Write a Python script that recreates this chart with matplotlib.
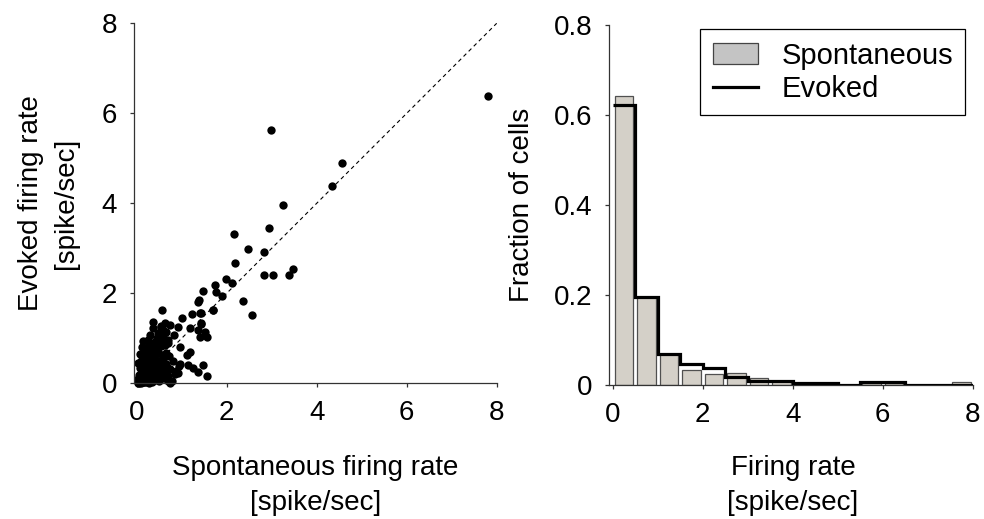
import matplotlib
matplotlib.use("Agg")
import matplotlib.pyplot as plt
from matplotlib.patches import Patch
from matplotlib.lines import Line2D
import numpy as np

plt.rcParams['font.family'] = ['Liberation Sans', 'DejaVu Sans']
plt.rcParams['font.size'] = 20

# Spontaneous vs evoked firing rate per cell [spike/sec]
spont_rate = [
    # sparse, higher-rate cells
    7.80, 2.99, 4.57, 4.33, 3.26, 2.93, 2.16, 2.48, 2.84, 2.18, 1.98, 2.12,
    2.84, 3.02, 3.38, 3.47, 1.73, 1.47, 1.76, 1.89, 1.38, 2.37, 1.70, 1.44,
    2.57, 1.43, 1.37, 1.69, 1.00, 1.22, 1.41, 1.44, 1.37, 1.56, 1.52, 1.18,
    1.11, 0.96, 1.15, 1.26, 1.37, 1.48, 1.56, 0.92, 0.96, 1.41, 1.18, 0.92,
    0.74, 0.78, 0.56, 0.36, 0.74, 0.59, 0.84, 0.55, 0.70,
    # dense low-rate cluster
    0.05, 0.10, 0.15, 0.20, 0.25, 0.30, 0.35, 0.40, 0.50, 0.60, 0.70,
    0.05, 0.12, 0.18, 0.25, 0.32, 0.40, 0.48, 0.55, 0.62, 0.70, 0.85,
    0.08, 0.15, 0.22, 0.30, 0.38, 0.45, 0.52, 0.60, 0.68, 0.75, 0.95,
    0.10, 0.18, 0.26, 0.34, 0.42, 0.50, 0.58, 0.80,
    0.07, 0.15, 0.22, 0.30, 0.40, 0.48, 0.56, 0.64, 0.72,
    0.12, 0.20, 0.36, 0.46, 0.55, 0.62,
    0.14, 0.25, 0.32, 0.42, 0.50, 0.60, 0.70,
    0.30, 0.47, 0.58, 0.66,
    0.36, 0.55, 0.63,
    0.04, 0.08, 0.12, 0.03, 0.18, 0.22, 0.28, 0.45, 0.65, 0.33, 0.88,
    0.02, 0.06, 0.10, 0.14, 0.02, 0.06, 0.10, 0.16, 0.24, 0.28,
]
evoked_rate = [
    6.39, 5.64, 4.90, 4.38, 3.96, 3.46, 3.31, 2.98, 2.92, 2.68, 2.32, 2.24,
    2.41, 2.41, 2.41, 2.54, 2.18, 2.06, 2.03, 1.94, 1.85, 1.82, 1.64, 1.56,
    1.52, 1.32, 1.81, 1.63, 1.46, 1.54, 1.57, 1.33, 1.18, 1.02, 1.15, 0.70,
    0.63, 0.81, 0.41, 0.33, 0.26, 0.41, 0.16, 1.26, 0.44, 1.04, 1.22, 0.22,
    0.00, 0.06, 1.64, 1.37, 1.30, 1.19, 1.07, 1.26, 0.90,
    0.05, 0.03, 0.08, 0.02, 0.06, 0.10, 0.04, 0.08, 0.05, 0.12, 0.06,
    0.18, 0.22, 0.15, 0.20, 0.25, 0.17, 0.23, 0.19, 0.24, 0.16, 0.21,
    0.35, 0.30, 0.38, 0.33, 0.36, 0.31, 0.39, 0.34, 0.37, 0.32, 0.38,
    0.50, 0.46, 0.54, 0.48, 0.52, 0.47, 0.55, 0.49,
    0.65, 0.62, 0.68, 0.60, 0.66, 0.70, 0.63, 0.67, 0.61,
    0.80, 0.76, 0.84, 0.78, 0.82, 0.85,
    0.93, 0.97, 0.90, 0.95, 0.99, 0.92, 0.96,
    1.08, 1.12, 1.06, 1.14,
    1.22, 1.28, 1.33,
    0.12, 0.14, 0.30, 0.45, 0.58, 0.72, 0.88, 1.00, 0.42, 0.75, 0.28,
    0.00, 0.01, 0.00, 0.02, 0.10, 0.12, 0.08, 0.04, 0.02, 0.00,
]

# Histogram of firing rates, fraction of cells per 0.5 spike/sec bin
bin_edges = np.arange(0, 8.5, 0.5)
spont_frac = [0.643, 0.195, 0.069, 0.033, 0.025, 0.027, 0.015, 0.008,
              0.005, 0.005, 0.0, 0.005, 0.005, 0.0, 0.0, 0.006]
evoked_frac = [0.622, 0.195, 0.069, 0.046, 0.037, 0.018, 0.010, 0.010,
               0.005, 0.005, 0.0, 0.006, 0.006, 0.0, 0.0, 0.0]

W, H = 984, 519
fig = plt.figure(figsize=(W / 100, H / 100), dpi=100)

ax1 = fig.add_axes([134 / W, (H - 383.3) / H, 362.7 / W, 360 / H])
ax2 = fig.add_axes([609.1 / W, (H - 385) / H, 363.6 / W, 360 / H])

bar_face = '#d4d0c8'
bar_edge = '#505050'

# Scatter of evoked against spontaneous rate with identity line
ax1.plot([0, 8], [0, 8], color='black', lw=0.8, ls=(0, (3.5, 3)))
ax1.plot(spont_rate, evoked_rate, 'o', color='black', ms=6.0, mew=0,
         clip_on=False)
ax1.set_xlim(-0.06, 8)
ax1.set_ylim(0, 8)
ax1.set_xticks([0, 2, 4, 6, 8])
ax1.set_yticks([0, 2, 4, 6, 8])
ax1.set_xlabel('Spontaneous firing rate\n[spike/sec]', linespacing=1.45,
               va='center')
ax1.xaxis.set_label_coords(0.50, -0.283)
ax1.set_ylabel('Evoked firing rate\n[spike/sec]', linespacing=1.45,
               va='center')
ax1.yaxis.set_label_coords(-0.236, 0.5)

# Histogram: spontaneous as bars, evoked as a step outline
centers = (bin_edges[:-1] + bin_edges[1:]) / 2
ax2.bar(centers, spont_frac, width=0.42, color=bar_face, edgecolor=bar_edge,
        lw=0.9, zorder=2)
ax2.stairs(evoked_frac, bin_edges, baseline=None, color='black', lw=2.3,
           zorder=3)
ax2.set_xlim(-0.08, 8)
ax2.set_ylim(0, 0.8)
ax2.set_xticks([0, 2, 4, 6, 8])
ax2.set_yticks([0, 0.2, 0.4, 0.6, 0.8])
ax2.set_yticklabels(['0', '0.2', '0.4', '0.6', '0.8'])
ax2.set_xlabel('Firing rate\n[spike/sec]', linespacing=1.45, va='center')
ax2.xaxis.set_label_coords(0.506, -0.278)
ax2.set_ylabel('Fraction of cells', va='center')
ax2.yaxis.set_label_coords(-0.24, 0.5)

handles = [Patch(facecolor='#c4c4c4', edgecolor='#444444', lw=0.9),
           Line2D([], [], color='black', lw=2.3)]
leg = ax2.legend(handles, ['Spontaneous', 'Evoked'], loc='upper right',
                 bbox_to_anchor=(0.979, 0.988), borderaxespad=0,
                 fancybox=False, framealpha=1, edgecolor='black',
                 fontsize=21, handlelength=1.55, handletextpad=0.8,
                 labelspacing=0.18, borderpad=0.42)
leg.get_frame().set_linewidth(0.9)

for ax in (ax1, ax2):
    for side in ('top', 'right'):
        ax.spines[side].set_visible(False)
    for side in ('left', 'bottom'):
        ax.spines[side].set_linewidth(0.9)
        ax.spines[side].set_color('#333333')
    ax.tick_params(direction='out', length=3, width=0.9, pad=9,
                   labelsize=20, colors='#333333', labelcolor='black')

fig.savefig('out.png', dpi=100)
